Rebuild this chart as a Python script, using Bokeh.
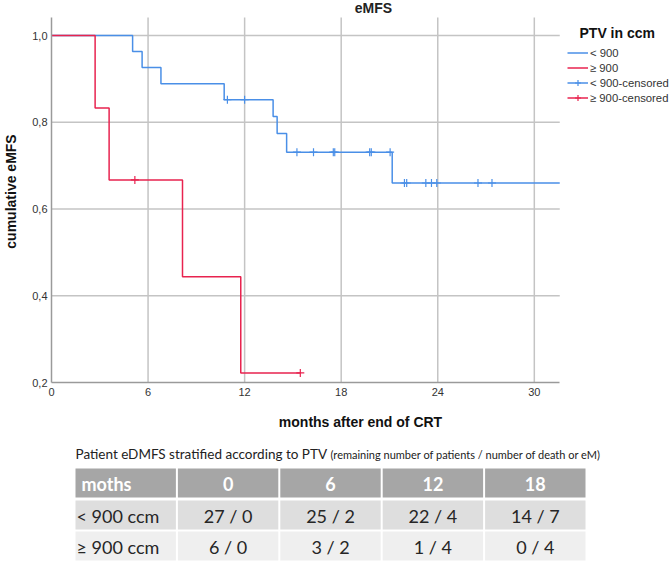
import numpy as np
from bokeh.plotting import figure
from bokeh.models import (Range1d, FixedTicker, CustomJSTickFormatter, Label, Legend,
                          LegendItem, ColumnDataSource)
from bokeh.layouts import column
from bokeh.embed import file_html
from bokeh.resources import INLINE
from bokeh.core.properties import value

# ---------------- data ----------------
lt_times = [0, 5.04, 5.63, 6.80, 10.73, 13.77, 14.02, 14.61, 21.17, 31.58]
lt_surv = [1.0, 0.963, 0.926, 0.889, 0.852, 0.813, 0.774, 0.731, 0.660, 0.660]
lt_censor = [10.93, 12.0, 15.25, 16.28, 17.51, 17.60, 19.77, 19.87, 21.04,
             21.93, 22.07, 23.26, 23.61, 23.94, 26.50, 27.37]
ge_times = [0, 2.71, 3.58, 8.14, 11.76, 15.46]
ge_surv = [1.0, 0.833, 0.667, 0.444, 0.222, 0.222]
ge_censor = [5.18, 15.46]
x_ticks = [0, 6, 12, 18, 24, 30]
y_ticks = [0.2, 0.4, 0.6, 0.8, 1.0]
series_names = ["< 900", "≥ 900"]
table_header = ["moths", "0", "6", "12", "18"]
row_labels = ["< 900 ccm", "≥ 900 ccm"]
counts_lt = ["27 / 0", "25 / 2", "22 / 4", "14 / 7"]
counts_ge = ["6 / 0", "3 / 2", "1 / 4", "0 / 4"]

BLUE = "#4a8fe7"
RED = "#e8234f"
FONT = "Liberation Sans"

X_MAX, Y_MIN, Y_MAX = 31.58, 0.2, 1.0415   # visible extent of the plot area


def surv_at(times, surv, t):
    idx = np.searchsorted(np.array(times), np.array(t), side="right") - 1
    return list(np.array(surv)[idx])


# ---------------- KM plot ----------------
# frame spans the full right/top of the canvas so the legend & title can live in it
p = figure(width=669, height=440, output_backend="svg", toolbar_location=None,
           x_range=Range1d(0, 38.40), y_range=Range1d(0.2, 1.0807),
           min_border_left=46, min_border_right=0, min_border_top=0,
           min_border_bottom=58)
p.frame_align = False
p.outline_line_color = None
p.background_fill_color = "white"
p.grid.visible = False

p.xaxis.ticker = FixedTicker(ticks=x_ticks)
p.yaxis.ticker = FixedTicker(ticks=y_ticks)
p.yaxis.formatter = CustomJSTickFormatter(code="return tick.toFixed(1).replace('.', ',');")
p.xaxis.bounds = (0, X_MAX)
p.yaxis.bounds = (Y_MIN, Y_MAX)
for ax in (p.xaxis, p.yaxis):
    ax.axis_line_color = "#9a9a9a"
    ax.axis_line_width = 1.5
    ax.major_tick_in = 0
    ax.major_tick_out = 0
    ax.minor_tick_in = 0
    ax.minor_tick_out = 0
    ax.major_label_text_font = FONT
    ax.major_label_text_font_size = "11px"
    ax.major_label_text_color = "#333333"
    ax.axis_label_text_font = FONT
    ax.axis_label_text_font_size = "14px"
    ax.axis_label_text_font_style = "bold"
    ax.axis_label_text_color = "#111111"
p.yaxis.major_label_standoff = 4
p.xaxis.major_label_standoff = 5
p.yaxis.axis_label = "cumulative eMFS"
p.xaxis.axis_label = "months after end of CRT"
p.yaxis.axis_label_standoff = 10
p.xaxis.axis_label_standoff = 15

# grid lines limited to the plot area
gx = [v for v in x_ticks if v > 0]
gy = [v for v in y_ticks if v > Y_MIN]
p.segment(x0=gx, x1=gx, y0=[Y_MIN] * len(gx), y1=[Y_MAX] * len(gx),
          line_color="#c4c4c4", line_width=1.5)
p.segment(x0=[0] * len(gy), x1=[X_MAX] * len(gy), y0=gy, y1=gy,
          line_color="#c4c4c4", line_width=1.5)

r_lt = p.step(lt_times, lt_surv, mode="after", line_color=BLUE, line_width=1.5)
r_ge = p.step(ge_times, ge_surv, mode="after", line_color=RED, line_width=1.5)
c_lt = p.scatter(lt_censor, surv_at(lt_times, lt_surv, lt_censor), marker="cross",
                 size=8, line_color=BLUE, line_width=1.2)
c_ge = p.scatter(ge_censor, surv_at(ge_times, ge_surv, ge_censor), marker="cross",
                 size=8, line_color=RED, line_width=1.2)

legend = Legend(items=[
    LegendItem(label=series_names[0], renderers=[r_lt]),
    LegendItem(label=series_names[1], renderers=[r_ge]),
    LegendItem(label=series_names[0] + "-censored", renderers=[r_lt, c_lt]),
    LegendItem(label=series_names[1] + "-censored", renderers=[r_ge, c_ge]),
], location=(516, 277))
legend.border_line_color = None
legend.background_fill_alpha = 0
legend.padding = 0
legend.margin = 0
legend.spacing = 0
legend.label_height = 15
legend.glyph_height = 15
legend.glyph_width = 21
legend.label_standoff = 2
legend.label_text_font = FONT
legend.label_text_font_size = "11.3px"
legend.label_text_color = "#333333"
p.add_layout(legend)

p.add_layout(Label(x=322, y=375, x_units="screen", y_units="screen", text="eMFS",
                   text_font=FONT, text_font_style="bold", text_font_size="14px",
                   text_color="#222222", text_align="center", text_baseline="middle"))
p.add_layout(Label(x=528, y=350, x_units="screen", y_units="screen", text="PTV in ccm",
                   text_font=FONT, text_font_style="bold", text_font_size="14px",
                   text_color="#111111", text_align="left", text_baseline="middle"))

# ---------------- table ----------------
t = figure(width=669, height=123, output_backend="svg", toolbar_location=None,
           x_range=Range1d(0, 669), y_range=Range1d(563, 440),
           x_axis_type=None, y_axis_type=None, min_border=0)
t.frame_align = False
t.outline_line_color = None
t.grid.visible = False

col_left0, col_w = 74, 102.4
row_tops = [468, 500, 531]
row_h = 29
row_fills = ["#a6a6a6", "#dedede", "#efefef"]

rows = [table_header, [row_labels[0]] + counts_lt, [row_labels[1]] + counts_ge]
cx, cy, cfill, tx, ty, txt, talign, tcolor, tstyle = [], [], [], [], [], [], [], [], []
for ri, row in enumerate(rows):
    for ci, cell in enumerate(row):
        left = col_left0 + ci * col_w
        cx.append(left + col_w / 2)
        cy.append(row_tops[ri] + row_h / 2)
        cfill.append(row_fills[ri])
        if ci == 0:
            tx.append(left + (7 if ri == 0 else 2))
            talign.append("left")
        else:
            tx.append(left + col_w / 2)
            talign.append("center")
        ty.append(row_tops[ri] + row_h / 2 + 1)
        txt.append(cell)
        tcolor.append("white" if ri == 0 else "#262626")
        tstyle.append("bold" if ri == 0 else "normal")

t.rect(x=cx, y=cy, width=col_w - 2, height=row_h, fill_color=cfill, line_color=None)
src = ColumnDataSource(dict(x=tx, y=ty, text=txt, align=talign, color=tcolor, style=tstyle))
t.text(x="x", y="y", text="text", source=src, text_align="align", text_color="color",
       text_font_style="style", text_baseline="middle", text_font=value("Lato"),
       text_font_size="18px")

t.add_layout(Label(x=75, y=453, text="Patient eDMFS stratified according to PTV",
                   text_font="Lato", text_font_size="13.5px", text_color="#222222",
                   text_baseline="middle", text_align="left"))
t.add_layout(Label(x=330, y=454, text="(remaining number of patients / number of death or eM)",
                   text_font="Lato", text_font_size="11px", text_color="#222222",
                   text_baseline="middle", text_align="left"))

layout = column(p, t, spacing=0)
open("out.html", "w").write(file_html(layout, INLINE))
